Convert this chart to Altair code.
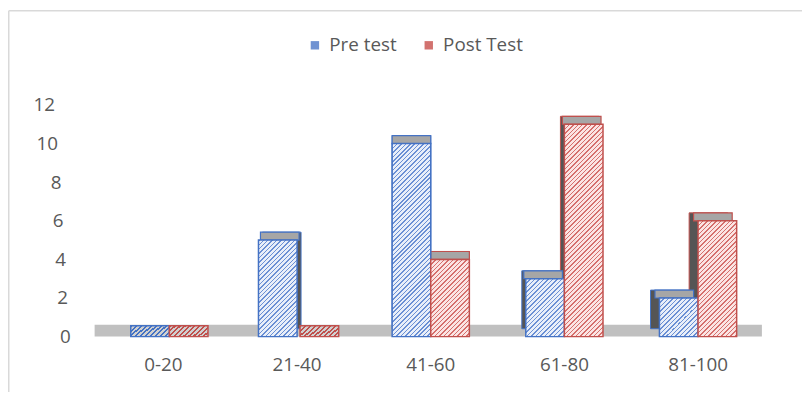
import altair as alt
import pandas as pd

# ---------------- data ----------------
categories = ["0-20", "21-40", "41-60", "61-80", "81-100"]
series = ["Pre test", "Post Test"]
pre_test = [0, 5, 10, 3, 2]
post_test = [0, 0, 4, 11, 6]
y_ticks = [0, 2, 4, 6, 8, 10, 12]

rows = []
for c, v in zip(categories, pre_test):
    rows.append({"cat": c, "series": "Pre test", "value": v})
for c, v in zip(categories, post_test):
    rows.append({"cat": c, "series": "Post Test", "value": v})
df = pd.DataFrame(rows)
one = pd.DataFrame({"k": [0]})

# ---------------- layout / style ----------------
W, H = 675, 234
PAD_L, PAD_T = 89.5, 96
PAD_R = 810 - 8 - PAD_L - W
PAD_B = 398 - 8 - PAD_T - H - 6
YMAX = 12
BAR_W = 39
DEPTH_DX = [9, 4, 0, -4, -9]   # perspective shift of the back face per category
DEPTH_DY = 8
SLAB_H = 12
FONT = "Open Sans"
TXT = "#595959"

STYLE = {
    "Pre test": dict(stroke="#4472c4", bg="#e8eef9", stripe="#6a8fd4", legend="#6f92d2", off=-BAR_W / 2),
    "Post Test": dict(stroke="#c0504d", bg="#fbe4e3", stripe="#d56f6c", legend="#d2726f", off=BAR_W / 2),
}


def hatch(w, h, bg, stripe, period=4.5, line=1.5):
    """Diagonal '/' hatching as a striped linear gradient for a w x h box."""
    L = w + h
    d = w * w + h * h
    a, b = w * L / d, h * L / d
    stops = []
    pos = 0.0
    while pos < L:
        t0 = pos / L
        t1 = min(pos + line, L) / L
        t2 = min(pos + period, L) / L
        stops += [
            {"offset": t0, "color": stripe},
            {"offset": t1, "color": stripe},
            {"offset": t1, "color": bg},
            {"offset": t2, "color": bg},
        ]
        pos += period
    return {"gradient": "linear", "x1": 0, "y1": 0, "x2": a, "y2": b, "stops": stops}


pad_by_value = {12: 42.5, 10: 39.5, 8: 36, 6: 34, 4: 31.5, 2: 29.5, 0: 26.5}

X = alt.X(
    "cat:N",
    scale=alt.Scale(domain=categories, paddingInner=0, paddingOuter=0),
    title=None,
    axis=alt.Axis(
        domain=False, ticks=False, labelAngle=0, labelFont=FONT, labelFontSize=19,
        labelColor=TXT, labelPadding=19,
    ),
)
Y = alt.Y(
    "value:Q",
    scale=alt.Scale(domain=[0, YMAX], nice=False),
    title=None,
    axis=alt.Axis(
        values=y_ticks, domain=False, ticks=False, grid=False, labelFont=FONT,
        labelFontSize=19, labelColor=TXT,
        labelPadding={
            "condition": [{"test": f"datum.value == {v}", "value": p} for v, p in pad_by_value.items()],
            "value": 30,
        },
    ),
)

base = alt.Chart(df)

floor = alt.Chart(one).mark_rect(color="#c0c0c0").encode(
    x=alt.value(-2), x2=alt.value(W - 3), y=alt.value(H - SLAB_H), y2=alt.value(H)
)

backs, tops, fronts = [], [], []
for s, vals in (("Pre test", pre_test), ("Post Test", post_test)):
    st = STYLE[s]
    for i, (c, v) in enumerate(zip(categories, vals)):
        flt = f"datum.cat == '{c}' && datum.series == '{s}'"
        dx = DEPTH_DX[i]
        if v > 0:
            h = v * H / YMAX
            backs.append(
                base.transform_filter(flt).mark_bar(
                    width=BAR_W, xOffset=st["off"] + dx, yOffset=-DEPTH_DY, y2Offset=-DEPTH_DY,
                    fill="#555555", stroke=st["stroke"], strokeWidth=1,
                ).encode(x=X, y=Y, y2=alt.datum(0))
            )
            tops.append(
                base.transform_filter(flt).mark_bar(
                    width=BAR_W, xOffset=st["off"] + dx / 2, yOffset=-DEPTH_DY, y2Offset=0,
                    fill="#a6a6a6", stroke=st["stroke"], strokeWidth=1.2,
                ).encode(x=X, y=Y, y2=alt.Y2("value"))
            )
            fronts.append(
                base.transform_filter(flt).mark_bar(
                    width=BAR_W, xOffset=st["off"],
                    fill=hatch(BAR_W, h, st["bg"], st["stripe"]),
                    stroke=st["stroke"], strokeWidth=1.5,
                ).encode(x=X, y=Y, y2=alt.datum(0))
            )
        else:
            tops.append(
                base.transform_filter(flt).mark_bar(
                    width=BAR_W, xOffset=st["off"] + (dx + 1) * 0.6, yOffset=-SLAB_H + 1, y2Offset=0,
                    fill=hatch(BAR_W, SLAB_H, "#d0d0d0", st["stroke"], period=5, line=2.2),
                    stroke=st["stroke"], strokeWidth=1.5,
                ).encode(x=X, y=Y, y2=alt.Y2("value"))
            )

legend_layer = base.mark_square(opacity=0).encode(
    color=alt.Color(
        "series:N",
        scale=alt.Scale(domain=series, range=[STYLE[s]["legend"] for s in series]),
        legend=alt.Legend(
            title=None, orient="none", legendX=211, legendY=-70, direction="horizontal",
            symbolType="square", symbolSize=72, symbolOpacity=1, symbolStrokeWidth=0,
            labelFont=FONT, labelFontSize=19, labelColor=TXT, labelOffset=5,
            columnPadding=22, padding=0,
        ),
    )
)

border = alt.Chart(one).mark_rule(color="#d9d9d9", strokeWidth=1.5).encode(
    x=alt.value(-PAD_L + 0.75), y=alt.value(-PAD_T + 0.75), y2=alt.value(H + 80)
)
border_top = alt.Chart(one).mark_rule(color="#d9d9d9", strokeWidth=1.5).encode(
    x=alt.value(-PAD_L + 0.75), x2=alt.value(W + 60), y=alt.value(-PAD_T + 0.75)
)

chart = alt.layer(
    border, border_top, floor, *backs, *tops, *fronts, legend_layer
).properties(
    width=W, height=H,
    autosize=alt.AutoSizeParams(type="none"),
    padding={"left": PAD_L, "top": PAD_T, "right": PAD_R, "bottom": PAD_B},
).configure_view(stroke=None)

chart.save("out.html", embed_options={"renderer": "svg", "actions": False})
